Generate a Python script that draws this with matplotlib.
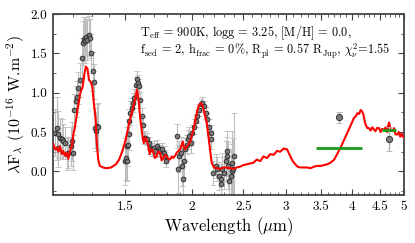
import matplotlib
matplotlib.use('Agg')
import matplotlib.pyplot as plt
import numpy as np
from matplotlib.ticker import FixedLocator, NullFormatter

# model spectrum (red line), wavelength in micron, flux in 1e-16 W/m2
model_wl = [1.101, 1.109, 1.118, 1.126, 1.134, 1.142, 1.150, 1.158, 1.167, 1.175,
            1.184, 1.193, 1.201, 1.208, 1.215, 1.221, 1.227, 1.234, 1.240, 1.249,
            1.259, 1.267, 1.276, 1.285, 1.294, 1.303, 1.312, 1.322, 1.327, 1.337,
            1.346, 1.365, 1.386, 1.413, 1.443, 1.463, 1.484, 1.506, 1.528, 1.550,
            1.569, 1.580, 1.591, 1.601, 1.615, 1.627, 1.636, 1.645, 1.657, 1.669,
            1.681, 1.694, 1.707, 1.720, 1.732, 1.745, 1.758, 1.771, 1.784, 1.797,
            1.810, 1.823, 1.836, 1.849, 1.863, 1.877, 1.890, 1.904, 1.915, 1.926,
            1.935, 1.945, 1.959, 1.973, 1.988, 2.002, 2.022, 2.039, 2.060, 2.081,
            2.099, 2.120, 2.135, 2.150, 2.166, 2.181, 2.203, 2.230, 2.261, 2.295,
            2.328, 2.362, 2.396, 2.430, 2.466, 2.500, 2.537, 2.574, 2.610, 2.650,
            2.690, 2.727, 2.770, 2.808, 2.850, 2.890, 2.930, 2.975, 3.019, 3.062,
            3.095, 3.129, 3.160, 3.197, 3.245, 3.291, 3.339, 3.390, 3.437, 3.490,
            3.537, 3.590, 3.641, 3.700, 3.748, 3.802, 3.860, 3.915, 3.970, 4.030,
            4.060, 4.089, 4.120, 4.148, 4.175, 4.197, 4.220, 4.239, 4.270, 4.300,
            4.330, 4.360, 4.395, 4.420, 4.450, 4.491, 4.520, 4.550, 4.590, 4.620,
            4.650, 4.670, 4.690, 4.720, 4.759, 4.790, 4.820, 4.863, 4.890, 4.920,
            4.950, 4.970, 5.000]
model_flux = [0.35, 0.28, 0.30, 0.25, 0.32, 0.22, 0.26, 0.20, 0.24, 0.16,
              0.26, 0.32, 0.47, 0.55, 0.66, 0.76, 0.85, 0.95, 1.02, 1.06,
              1.23, 1.33, 1.31, 1.16, 1.14, 1.08, 0.87, 0.66, 0.41, 0.15,
              0.07, 0.05, 0.04, 0.05, 0.09, 0.15, 0.26, 0.41, 0.62, 0.78,
              0.93, 1.04, 0.91, 0.70, 0.49, 0.36, 0.43, 0.41, 0.34, 0.22,
              0.28, 0.26, 0.17, 0.19, 0.25, 0.24, 0.14, 0.17, 0.21, 0.19,
              0.16, 0.15, 0.19, 0.17, 0.20, 0.24, 0.26, 0.28, 0.33, 0.38,
              0.31, 0.28, 0.31, 0.34, 0.38, 0.45, 0.57, 0.70, 0.83, 0.87,
              0.83, 0.70, 0.62, 0.45, 0.28, 0.11, 0.05, 0.04, 0.03, 0.05,
              0.05, 0.04, 0.03, 0.05, 0.06, 0.08, 0.09, 0.10, 0.11, 0.15,
              0.13, 0.19, 0.17, 0.22, 0.21, 0.26, 0.25, 0.29, 0.28, 0.19,
              0.13, 0.09, 0.06, 0.05, 0.05, 0.05, 0.04, 0.06, 0.07, 0.07,
              0.08, 0.09, 0.11, 0.15, 0.22, 0.30, 0.40, 0.49, 0.58, 0.68,
              0.70, 0.74, 0.73, 0.78, 0.76, 0.72, 0.64, 0.59, 0.55, 0.55,
              0.52, 0.56, 0.53, 0.51, 0.55, 0.55, 0.50, 0.54, 0.53, 0.56,
              0.50, 0.58, 0.62, 0.52, 0.51, 0.55, 0.47, 0.47, 0.50, 0.44,
              0.48, 0.45, 0.43]

# observed spectrum (grey points)
obs_wl = [1.110, 1.118, 1.125, 1.125, 1.134, 1.142, 1.150, 1.159, 1.167, 1.175,
          1.188, 1.193, 1.198, 1.205, 1.215, 1.222, 1.227, 1.236, 1.245, 1.251,
          1.258, 1.263, 1.269, 1.276, 1.284, 1.291, 1.297, 1.306, 1.314, 1.319,
          1.324, 1.329, 1.338,
          1.502, 1.509, 1.511, 1.513, 1.520, 1.526, 1.528, 1.535, 1.548, 1.555,
          1.562, 1.576, 1.580, 1.584, 1.591, 1.603, 1.615, 1.622, 1.626, 1.638,
          1.650, 1.662, 1.674, 1.686, 1.698, 1.711, 1.723, 1.735, 1.748, 1.761,
          1.773, 1.786, 1.794,
          1.880, 1.885, 1.893, 1.907, 1.921, 1.929, 1.934, 1.948, 1.963, 1.971,
          1.980, 1.991, 2.006, 2.020, 2.035, 2.050, 2.065, 2.080, 2.095, 2.110,
          2.125, 2.141, 2.156, 2.172, 2.178, 2.197, 2.219, 2.235, 2.250, 2.267,
          2.274, 2.284, 2.300, 2.317, 2.327, 2.334, 2.344, 2.354, 2.367, 2.377,
          2.384, 2.395, 2.401]
obs_flux = [0.49, 0.55, 0.30, 0.47, 0.43, 0.41, 0.38, 0.36, 0.22, 0.24,
            0.32, 0.38, 0.24, 0.78, 0.89, 0.95, 1.06, 1.16, 1.44, 1.63,
            1.68, 1.66, 1.71, 1.67, 1.73, 1.69, 1.50, 1.27, 1.14, 0.55,
            0.51, 0.58, 0.57,
            0.13, 0.17, 0.13, 0.32, 0.34, 0.47, 0.64, 0.74, 0.81, 0.87,
            0.93, 1.10, 1.17, 1.12, 1.08, 0.91, 0.70, 0.59, 0.43, 0.43,
            0.41, 0.36, 0.30, 0.28, 0.30, 0.26, 0.32, 0.28, 0.26, 0.28,
            0.24, 0.19, 0.13,
            0.45, 0.03, 0.19, 0.24, 0.07, -0.10, 0.13, 0.28, 0.34, 0.41,
            0.45, 0.36, 0.49, 0.57, 0.64, 0.70, 0.78, 0.85, 0.87, 0.83,
            0.74, 0.66, 0.57, 0.49, 0.41, -0.02, 0.07, 0.03, -0.06, -0.16,
            -0.10, 0.03, -0.02, 0.13, 0.19, 0.26, 0.07, -0.12, -0.06, 0.00,
            0.11, 0.03, 0.19]
obs_err = [0.30, 0.40, 0.25, 0.30, 0.25, 0.25, 0.22, 0.20, 0.20, 0.20,
           0.25, 0.25, 0.22, 0.20, 0.20, 0.20, 0.20, 0.22, 0.25, 0.28,
           0.28, 0.28, 0.25, 0.25, 0.25, 0.25, 0.25, 0.25, 0.22, 0.25,
           0.25, 0.28, 0.30,
           0.30, 0.28, 0.25, 0.25, 0.22, 0.20, 0.15, 0.15, 0.12, 0.12,
           0.12, 0.10, 0.10, 0.10, 0.10, 0.10, 0.10, 0.10, 0.08, 0.08,
           0.08, 0.08, 0.08, 0.08, 0.08, 0.08, 0.08, 0.08, 0.08, 0.08,
           0.08, 0.08, 0.08,
           0.15, 0.30, 0.20, 0.20, 0.25, 0.25, 0.20, 0.15, 0.12, 0.12,
           0.12, 0.12, 0.10, 0.10, 0.08, 0.08, 0.08, 0.07, 0.07, 0.07,
           0.08, 0.08, 0.10, 0.10, 0.12, 0.15, 0.15, 0.15, 0.18, 0.18,
           0.20, 0.20, 0.20, 0.25, 0.25, 0.25, 0.30, 0.30, 0.35, 0.35,
           0.40, 0.40, 0.55]

# photometry (L' and M) and model band fluxes (green)
phot_wl = [3.78, 4.68]
phot_flux = [0.69, 0.41]
phot_err = [0.07, 0.15]
band_lo = [3.42, 4.55]
band_hi = [4.17, 4.84]
band_flux = [0.30, 0.52]

plt.rcParams['font.family'] = ['cmr10', 'DejaVu Serif']
plt.rcParams['mathtext.fontset'] = 'cm'
plt.rcParams['axes.formatter.use_mathtext'] = True
plt.rcParams['axes.unicode_minus'] = False

fig = plt.figure(figsize=(4.15, 2.43), dpi=100)
ax = fig.add_axes([53 / 415, 1 - 195 / 243, 351 / 415, 181 / 243])

ax.errorbar(obs_wl, obs_flux, yerr=obs_err, fmt='o', ms=3.4, mfc='#7a7a7a', mec='#222222',
            mew=0.6, ecolor='#bdbdbd', elinewidth=0.8, capsize=2, capthick=0.8, zorder=2)
ax.plot(model_wl, model_flux, color='red', lw=1.5, zorder=3)
ax.hlines(band_flux, band_lo, band_hi, colors='#1a9a1a', lw=2, zorder=4)
ax.errorbar(phot_wl, phot_flux, yerr=phot_err, fmt='o', ms=4.5, mfc='#7a7a7a', mec='#222222',
            mew=0.6, ecolor='#b0b0b0', elinewidth=1, capsize=2.5, capthick=1, zorder=3)

ax.set_xscale('log')
ax.set_xlim(1.1, 5.0)
ax.set_ylim(-0.3, 2.0)

major_x = [1.5, 2, 2.5, 3, 3.5, 4, 4.5, 5]
ax.xaxis.set_major_locator(FixedLocator(major_x))
ax.set_xticklabels(['1.5', '2', '2.5', '3', '3.5', '4', '4.5', '5'])
ax.xaxis.set_minor_locator(FixedLocator(np.arange(1.1, 5.0, 0.1)))
ax.xaxis.set_minor_formatter(NullFormatter())
ax.set_yticks([0, 0.5, 1.0, 1.5, 2.0])
ax.set_yticklabels(['0.0', '0.5', '1.0', '1.5', '2.0'])
ax.yaxis.set_minor_locator(FixedLocator([-0.25, 0.25, 0.75, 1.25, 1.75]))

ax.tick_params(which='both', direction='in', top=True, right=True, color='#444444',
               labelsize=9.5, pad=4)
ax.tick_params(which='major', length=4, width=0.8)
ax.tick_params(which='minor', length=2, width=0.6)
for s in ax.spines.values():
    s.set_color('#444444')
    s.set_linewidth(1.3)

ax.set_xlabel(r'Wavelength ($\mu$m)', fontsize=12, labelpad=2)
ax.set_ylabel(r'$\lambda$F$_\lambda$ (10$^{-16}$ W.m$^{-2}$)', fontsize=11.5, labelpad=3)

ax.text(0.248, 0.875, r'T$_{\rm eff}$ = 900K, logg = 3.25, [M/H] = 0.0,',
        transform=ax.transAxes, fontsize=8.8, va='baseline')
ax.text(0.248, 0.778, r'f$_{\rm sed}$ = 2, h$_{\rm frac}$ = 0%, R$_{\rm pl}$ = 0.57 R$_{\rm Jup}$, $\chi^2_\nu$=1.55',
        transform=ax.transAxes, fontsize=8.8, va='baseline')

fig.savefig('out.png', dpi=100)
